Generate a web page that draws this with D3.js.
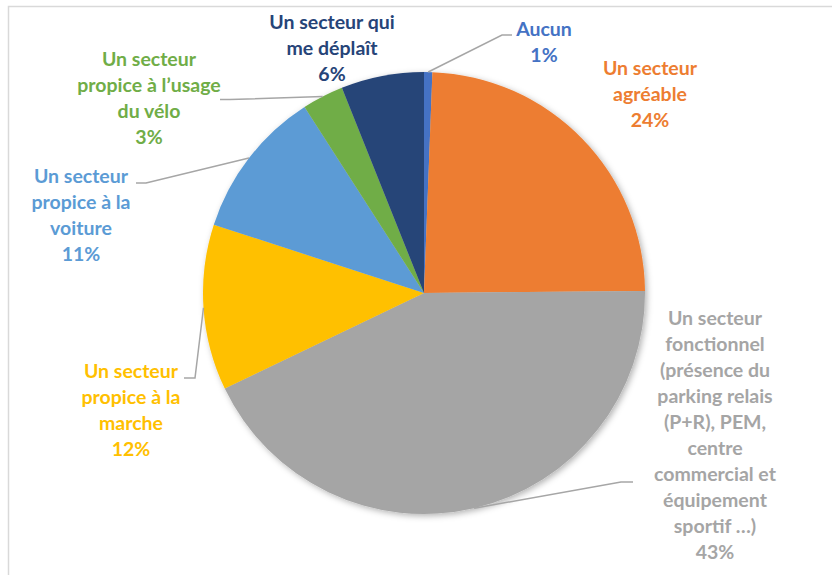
<!DOCTYPE html>
<html>
<head>
<meta charset="utf-8">
<script src="https://cdn.jsdelivr.net/npm/d3@7"></script>
<style>
  html, body { margin: 0; padding: 0; background: #fff; }
  svg { display: block; }
  .lbl { font-family: Lato, "Liberation Sans", sans-serif; font-weight: 700; font-size: 19.5px; }
</style>
</head>
<body>
<div id="chart"></div>
<script>
// answers (respondents), clockwise from 12 o'clock
var categories = [
	'Aucun',
	'Un secteur agréable',
	'Un secteur fonctionnel (présence du parking relais (P+R), PEM, centre commercial et équipement sportif …)',
	'Un secteur propice à la marche',
	'Un secteur propice à la voiture',
	'Un secteur propice à l’usage du vélo',
	'Un secteur qui me déplaît'
];
var counts = [1, 40, 71, 20, 18, 5, 10];
var colors = ['#4472C4', '#ED7D31', '#A5A5A5', '#FFC000', '#5B9BD5', '#70AD47', '#264478'];

// how each label is broken over lines, as in the picture
var labelLines = [
	['Aucun'],
	['Un secteur', 'agréable'],
	['Un secteur', 'fonctionnel', '(présence du', 'parking relais', '(P+R), PEM,', 'centre', 'commercial et', 'équipement', 'sportif …)'],
	['Un secteur', 'propice à la', 'marche'],
	['Un secteur', 'propice à la', 'voiture'],
	['Un secteur', 'propice à l’usage', 'du vélo'],
	['Un secteur qui', 'me déplaît']
];

// label placement: centre x, first baseline, leader elbow and end (null = no leader)
var labelPos = [
	{x: 544, y: 36, elbow: [502, 35], end: [512, 35]},
	{x: 650, y: 75, elbow: null},
	{x: 715, y: 325, elbow: [621, 482], end: [633, 482]},
	{x: 131, y: 378, elbow: [195, 378], end: [184, 378]},
	{x: 81, y: 183, elbow: [146, 183], end: [136, 183]},
	{x: 149, y: 66, elbow: [230, 99.5], end: [220, 99.5]},
	{x: 332, y: 29, elbow: null}
];

var width = 832,
	height = 575,
	cx = 424,
	cy = 293,
	radius = 221,
	lineH = 26;

var svg = d3.select('#chart').append('svg')
	.attr('width', width)
	.attr('height', height);

// chart frame
svg.append('rect')
	.attr('x', 8.5)
	.attr('y', 6.5)
	.attr('width', 900)
	.attr('height', 700)
	.attr('fill', '#fff')
	.attr('stroke', '#D9D9D9')
	.attr('stroke-width', 1.5);

var defs = svg.append('defs');
defs.append('filter')
	.attr('id', 'shadow')
	.attr('x', '-10%').attr('y', '-10%')
	.attr('width', '120%').attr('height', '120%')
	.append('feDropShadow')
		.attr('dx', 2)
		.attr('dy', 2)
		.attr('stdDeviation', 3)
		.attr('flood-color', '#000')
		.attr('flood-opacity', 0.3);

var pie = d3.pie().sort(null).value(function(d) { return d; });
var arcs = pie(counts);
var total = d3.sum(counts);
var pct = d3.format('.0%');

var arc = d3.arc().innerRadius(0).outerRadius(radius);

var g = svg.append('g')
	.attr('transform', 'translate(' + cx + ',' + cy + ')');

g.append('g')
	.attr('filter', 'url(#shadow)')
	.selectAll('path').data(arcs).enter()
	.append('path')
		.attr('d', arc)
		.attr('fill', function(d, i) { return colors[i]; });

// leader lines from the slice edge at mid angle
svg.append('g').selectAll('polyline')
	.data(arcs.filter(function(d, i) { return labelPos[i].elbow; }))
	.enter()
	.append('polyline')
		.attr('fill', 'none')
		.attr('stroke', '#A6A6A6')
		.attr('stroke-width', 1.5)
		.attr('points', function(d) {
			var p = labelPos[d.index];
			var a = (d.startAngle + d.endAngle) / 2;
			var sx = cx + Math.sin(a) * radius,
				sy = cy - Math.cos(a) * radius;
			return [[sx, sy], p.elbow, p.end].map(function(q) { return q.join(','); }).join(' ');
		});

// labels
var labels = svg.append('g').selectAll('text').data(arcs).enter()
	.append('text')
		.attr('class', 'lbl')
		.attr('text-anchor', 'middle')
		.attr('fill', function(d, i) { return colors[i]; });

labels.each(function(d, i) {
	var t = d3.select(this);
	var p = labelPos[i];
	var lines = labelLines[i].concat([pct(d.value / total)]);
	lines.forEach(function(s, k) {
		t.append('tspan')
			.attr('x', p.x)
			.attr('y', p.y + k * lineH)
			.text(s);
	});
});
</script>
</body>
</html>
